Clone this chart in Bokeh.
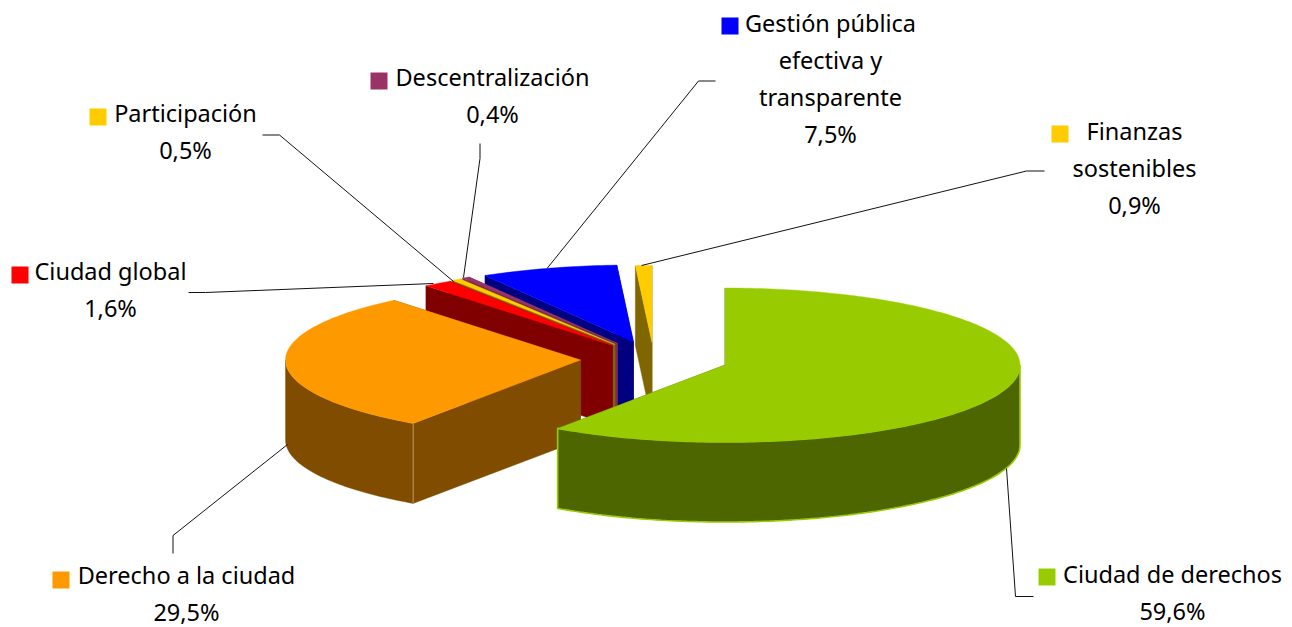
import math
from bokeh.plotting import figure
from bokeh.models import Range1d
from bokeh.core.properties import value
from bokeh.embed import file_html
from bokeh.resources import INLINE

# --- data ---
categories = ["Ciudad de derechos", "Derecho a la ciudad", "Ciudad global", "Participación",
              "Descentralización", "Gestión pública efectiva y transparente", "Finanzas sostenibles"]
shares = [59.6, 29.5, 1.6, 0.5, 0.4, 7.5, 0.9]
share_labels = ["59,6%", "29,5%", "1,6%", "0,5%", "0,4%", "7,5%", "0,9%"]
top_colors = ["#99CC00", "#FF9900", "#FF0000", "#FFCC00", "#993366", "#0000FF", "#FFCC00"]
side_colors = ["#4D6600", "#804D00", "#800000", "#806600", "#7A2A55", "#000080", "#806600"]

# --- layout (page pixels) ---
W, H = 1292, 627
RX, RY, DEPTH = 295, 77, 80
centres = [(724.5, 364.5), (580, 359.5), (612, 345), (614.5, 344), (617, 343), (633, 341.5), (651.5, 342)]
label_lines = [["Ciudad de derechos"], ["Derecho a la ciudad"], ["Ciudad global"], ["Participación"],
               ["Descentralización"], ["Gestión pública", "efectiva y", "transparente"], ["Finanzas", "sostenibles"]]
label_x = [1172, 186, 110, 185, 492, 830, 1134]
label_y = [583.5, 584, 280, 122.5, 86.5, 32, 140]
line_gap = 37
TEXT_SHIFT = -10
key_xy = [(1038, 568), (52, 571), (11, 266), (89, 108), (370, 72), (721, 17), (1051, 125)]
KEY = 17
leaders = [
    [(1033, 596), (1015, 596), (1006, 468)],
    [(172.5, 553), (172.5, 535), (287, 444)],
    [(188, 292), (205, 292), (433, 283)],
    [(262, 134.5), (279, 134.5), (453, 281)],
    [(479.5, 143), (479.5, 158), (463, 277)],
    [(715, 80.5), (698, 80.5), (546.5, 268)],
    [(1044, 170.5), (1026, 170.5), (641, 265)],
]
FONT, FONT_SIZE = "Noto Sans", "23.5px"

p = figure(width=W, height=H, output_backend="svg", toolbar_location=None,
           x_range=Range1d(0, W), y_range=Range1d(H, 0),
           min_border=0, outline_line_color=None, background_fill_color="white")
p.axis.visible = False
p.grid.visible = False


def rim(c, deg):
    t = math.radians(deg)
    return c[0] + RX * math.sin(t), c[1] - RY * math.cos(t)


def arc(c, a, b, dy=0.0):
    n = max(2, int(abs(b - a) / 1.0) + 1)
    pts = [rim(c, a + (b - a) * i / (n - 1)) for i in range(n)]
    return [(x, y + dy) for x, y in pts]


# angles measured clockwise from 12 o'clock
edges = [0.0]
for s in shares:
    edges.append(edges[-1] + s * 3.6)

# painter's order: back slices first
for i in reversed(range(len(shares))):
    c, a, b = centres[i], edges[i], edges[i + 1]
    top, side = top_colors[i], side_colors[i]
    for e in (b, a):
        rx_, ry_ = rim(c, e)
        p.patch([c[0], rx_, rx_, c[0]], [c[1], ry_, ry_ + DEPTH, c[1] + DEPTH],
                fill_color=side, line_color=side, line_width=0.4)
    lo, hi = max(a, 90), min(b, 270)
    if lo < hi:
        upper = arc(c, lo, hi)
        lower = arc(c, hi, lo, DEPTH)
        pts = upper + lower
        outline = top if i == 0 else side
        p.patch([q[0] for q in pts], [q[1] for q in pts], fill_color=side,
                line_color=outline, line_width=1.6 if i == 0 else 0.4)
    pts = [c] + arc(c, a, b)
    p.patch([q[0] for q in pts], [q[1] for q in pts], fill_color=top, line_color=top, line_width=0.4)

# light seam on the orange slice's front corner
cx, cy = rim(centres[1], edges[1])
p.line([cx, cx], [cy, cy + DEPTH], line_color="#B99A66", line_width=1)

# leader lines
for seg in leaders:
    p.line([q[0] for q in seg], [q[1] for q in seg], line_color="#111111", line_width=1)

# labels and keys
for i, lines in enumerate(label_lines):
    texts = lines + [share_labels[i]]
    ys = [label_y[i] + line_gap * k for k in range(len(texts))]
    p.text(x=[label_x[i]] * len(texts), y=ys, text=texts, text_font=value(FONT),
           text_font_size=value(FONT_SIZE), text_color="#000000",
           text_align="center", text_baseline="alphabetic", y_offset=TEXT_SHIFT)
    kx, ky = key_xy[i]
    p.quad(left=[kx], right=[kx + KEY], top=[ky], bottom=[ky + KEY],
           fill_color=top_colors[i], line_color=None)

open("out.html", "w").write(file_html(p, INLINE))
